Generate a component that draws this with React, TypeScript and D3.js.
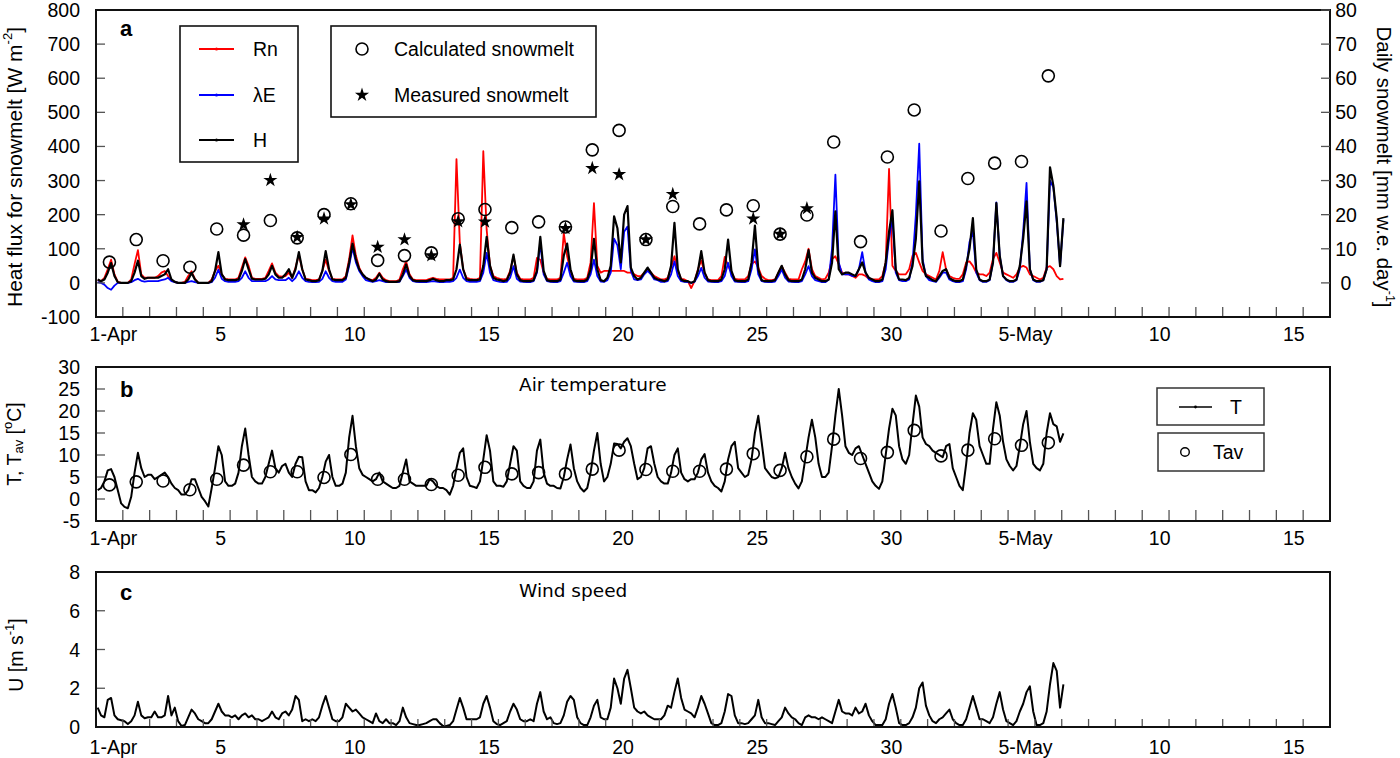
import React from 'react';
import * as d3 from 'd3';

// ---------------- DATA ----------------
// 3-hourly samples (1:30, 4:30, ... 22:30) for each day, 1 Apr – 6 May, plus one final sample
const RN_DAILY: number[][] = [
  [8, 5, 15, 40, 68, 25, 3, 0], [0, 0, 10, 55, 96, 25, 15, 15], [15, 15, 20, 30, 35, 20, 8, 3],
  [0, 0, 3, 20, 34, 12, 0, 0], [0, 0, 10, 35, 50, 25, 12, 10], [10, 10, 15, 45, 75, 50, 15, 12],
  [12, 12, 15, 35, 57, 30, 20, 18], [20, 30, 15, 45, 83, 40, 12, 10], [8, 8, 10, 35, 68, 35, 12, 10],
  [10, 10, 20, 70, 139, 80, 45, 25], [15, 10, 8, 15, 30, 15, 8, 5], [5, 5, 10, 40, 63, 25, 10, 8],
  [8, 8, 8, 12, 15, 12, 10, 10], [10, 10, 15, 363, 117, 40, 15, 12], [10, 10, 15, 386, 156, 50, 20, 15],
  [12, 10, 12, 35, 78, 30, 12, 10], [10, 10, 15, 73, 68, 30, 12, 10], [10, 10, 15, 146, 78, 35, 12, 10],
  [10, 10, 15, 60, 234, 50, 30, 35], [35, 35, 35, 35, 35, 35, 30, 30], [25, 20, 20, 30, 40, 30, 20, 15],
  [10, 10, 15, 45, 78, 35, 12, 10], [5, -15, 5, 40, 66, 30, 10, 8], [8, 8, 20, 76, 50, 30, 12, 10],
  [10, 10, 20, 55, 63, 45, 20, 12], [8, 8, 10, 30, 49, 30, 12, 10], [10, 10, 40, 63, 100, 40, 20, 15],
  [10, 12, 30, 70, 78, 55, 30, 25], [25, 20, 15, 25, 25, 20, 12, 10], [10, 10, 20, 60, 334, 50, 35, 25],
  [25, 25, 40, 80, 88, 60, 35, 25], [20, 15, 10, 35, 90, 40, 20, 15], [12, 12, 25, 60, 63, 50, 30, 25],
  [25, 20, 30, 70, 88, 60, 30, 25], [20, 15, 25, 45, 50, 45, 25, 20], [15, 10, 15, 45, 49, 40, 20, 10],
];
const RN_END = 12;

const LE_DAILY: number[][] = [
  [2, 0, -5, -15, -20, -8, 0, 0], [0, 0, 2, 8, 12, 6, 4, 5], [5, 5, 5, 8, 10, 15, 5, 2],
  [0, 0, 0, 3, 5, 2, 0, 0], [0, 0, 2, 15, 39, 12, 5, 3], [3, 3, 5, 15, 34, 15, 5, 5],
  [5, 5, 5, 10, 20, 10, 8, 8], [8, 15, 5, 15, 34, 15, 5, 3], [2, 2, 3, 12, 34, 15, 5, 3],
  [3, 3, 10, 50, 103, 60, 35, 20], [8, 5, 3, 5, 8, 5, 2, 2], [2, 2, 3, 20, 39, 15, 5, 3],
  [2, 2, 2, 4, 5, 4, 2, 2], [3, 3, 5, 15, 39, 15, 5, 3], [3, 3, 5, 30, 88, 30, 8, 5],
  [3, 2, 3, 15, 49, 12, 4, 3], [2, 2, 5, 30, 117, 25, 5, 3], [2, 2, 5, 30, 59, 20, 4, 3],
  [2, 2, 5, 25, 68, 20, 4, 3], [8, 30, 130, 110, 40, 150, 165, 35], [10, 8, 10, 25, 35, 25, 10, 8],
  [3, 3, 5, 25, 63, 20, 5, 3], [2, 0, 3, 20, 44, 15, 4, 3], [2, 2, 5, 20, 59, 20, 4, 3],
  [2, 2, 5, 40, 98, 25, 5, 3], [2, 2, 4, 20, 39, 15, 4, 3], [2, 2, 5, 25, 49, 20, 8, 5],
  [2, 2, 10, 100, 317, 60, 25, 25], [25, 20, 20, 40, 90, 30, 10, 5], [2, 2, 5, 40, 130, 190, 30, 8],
  [5, 5, 10, 60, 200, 408, 70, 20], [8, 5, 3, 15, 30, 30, 10, 5], [2, 2, 5, 40, 120, 150, 30, 8],
  [3, 3, 8, 60, 236, 80, 20, 8], [3, 3, 8, 40, 150, 293, 40, 8], [3, 3, 8, 40, 300, 280, 180, 49],
];
const LE_END = 185;

const H_DAILY: number[][] = [
  [10, 5, 10, 30, 58, 20, 2, 0], [0, 0, 5, 30, 65, 20, 12, 15], [15, 15, 15, 20, 25, 40, 10, 3],
  [0, 0, 0, 10, 29, 10, 0, 0], [0, 0, 5, 35, 90, 25, 10, 8], [8, 8, 10, 35, 70, 40, 12, 10],
  [10, 10, 12, 25, 50, 25, 15, 15], [25, 40, 15, 40, 90, 40, 10, 8], [5, 5, 8, 35, 93, 40, 10, 8],
  [8, 8, 15, 60, 115, 70, 40, 25], [15, 10, 5, 10, 27, 10, 5, 3], [3, 3, 5, 25, 54, 20, 8, 5],
  [5, 5, 5, 8, 12, 8, 5, 5], [8, 8, 10, 40, 112, 40, 10, 8], [8, 8, 10, 50, 135, 50, 15, 10],
  [8, 5, 8, 30, 83, 25, 8, 5], [5, 5, 8, 35, 135, 35, 8, 5], [5, 5, 10, 80, 115, 40, 8, 5],
  [5, 5, 10, 40, 129, 40, 8, 5], [15, 50, 195, 160, 60, 200, 225, 45], [20, 10, 15, 30, 45, 30, 15, 10],
  [8, 5, 10, 50, 176, 40, 10, 5], [5, 0, 5, 35, 93, 30, 8, 5], [5, 5, 10, 40, 127, 35, 8, 5],
  [5, 5, 10, 60, 168, 40, 8, 5], [5, 5, 8, 30, 50, 25, 8, 5], [5, 5, 10, 40, 96, 30, 15, 10],
  [5, 5, 10, 60, 210, 40, 25, 30], [30, 25, 20, 40, 60, 30, 15, 10], [5, 5, 10, 60, 150, 213, 40, 10],
  [10, 8, 15, 50, 130, 298, 60, 20], [15, 8, 5, 20, 35, 40, 15, 8], [5, 5, 10, 50, 100, 190, 40, 10],
  [5, 5, 10, 60, 234, 80, 20, 10], [5, 5, 10, 50, 130, 239, 40, 10], [5, 5, 8, 40, 339, 285, 190, 49],
];
const H_END = 190;

const T_DAILY: number[][] = [
  [2, 2.5, 4, 6.5, 6.8, 5, 2, -1], [-1.8, -2.1, 0.5, 6, 10.5, 7, 5, 5.5], [5.5, 4.5, 5, 5.5, 6, 5, 3.5, 2.5],
  [2, 1, 1, 2, 4.5, 4.5, 2.5, 0.5], [-0.5, -1.7, 2.5, 7, 12, 10, 4, 3], [3, 3.5, 6, 12, 16, 10, 5, 4],
  [3.5, 3.5, 5, 8, 11, 7, 6, 7.5], [8, 6, 5, 8, 9.6, 9.5, 4, 2], [2, 1.5, 2.5, 5, 8.5, 10, 5, 3],
  [3, 3.5, 6, 14, 18.9, 12, 7, 5.5], [5, 4.5, 4, 4.5, 6, 4, 3.5, 3], [2.5, 2.5, 3, 6, 9, 4, 3.5, 3],
  [3, 3, 3, 4.5, 4, 3, 2.5, 2.5], [2, 1, 3, 7, 10.5, 11.5, 5, 3], [2.8, 2.5, 4, 9, 14.5, 11, 4, 3],
  [3, 2.8, 4, 8, 12, 11, 4, 3], [2.5, 2.5, 4, 11, 13.5, 6, 3.5, 3], [3, 2.5, 2.4, 5, 9, 12.4, 7, 4],
  [2.5, 1.7, 2.5, 6, 11, 15, 8, 4], [5, 8, 12.6, 12.5, 11.5, 13, 13.8, 12], [8, 4.5, 5, 7, 11.5, 12, 8, 5],
  [4, 3.5, 3.5, 6, 10, 11.5, 6, 4.5], [4, 4.5, 4.5, 6, 9, 10.2, 6, 4], [3, 2.5, 1.7, 4, 9, 12, 13, 7],
  [6, 5, 5.5, 9, 15, 18.9, 13, 7], [6, 5, 4.7, 5, 7, 10.5, 7, 5], [3.5, 2.4, 4, 9, 14, 18, 14, 8],
  [5, 5, 6, 12, 19, 25, 19, 12], [10.5, 10, 11.5, 12, 10, 8, 6, 4], [3, 2.3, 4, 10, 16, 20.5, 19, 12],
  [9, 8, 10, 17, 23.5, 21, 14, 12.5], [12, 11, 10.5, 10, 9.5, 12, 12.5, 7], [5, 3, 2, 8, 15, 19.5, 18, 12],
  [10, 8, 8, 16, 22, 19, 13, 9], [7.5, 6.5, 7.5, 12, 17, 20, 13, 8], [7, 6.5, 8, 15, 19.5, 17, 16.5, 13],
];
const T_END = 14.9;

const U_DAILY: number[][] = [
  [1.0, 0.6, 0.5, 1.4, 1.5, 0.6, 0.4, 0.35], [0.3, 0.15, 0.3, 0.6, 1.3, 0.6, 0.45, 0.5],
  [0.5, 0.8, 0.5, 0.5, 0.6, 1.6, 0.6, 1.0], [0.3, 0.05, 0.1, 0.5, 0.9, 0.7, 0.4, 0.3],
  [0.2, 0.2, 0.4, 0.8, 1.2, 0.8, 0.6, 0.6], [0.5, 0.6, 0.4, 0.6, 0.7, 0.5, 0.6, 0.4],
  [0.4, 0.3, 0.4, 0.5, 0.8, 0.5, 0.4, 0.7], [0.8, 0.6, 0.9, 1.6, 1.4, 0.3, 0.4, 0.3],
  [0.4, 0.3, 0.5, 1.1, 1.6, 1.0, 0.4, 0.3], [0.3, 0.5, 1.2, 1.0, 0.8, 0.9, 0.7, 0.5],
  [0.4, 0.3, 0.2, 0.7, 0.3, 0.2, 0.4, 0.2], [0.2, 0.1, 0.3, 1.0, 0.5, 0.2, 0.15, 0.1],
  [0.1, 0.15, 0.2, 0.3, 0.4, 0.4, 0.2, 0.05], [0.05, 0.1, 0.3, 0.9, 1.5, 1.0, 0.4, 0.4],
  [0.4, 0.4, 0.5, 1.2, 1.6, 1.0, 0.3, 0.15], [0.1, 0.2, 0.3, 0.8, 1.2, 0.9, 0.4, 0.3],
  [0.3, 0.4, 0.3, 1.2, 1.8, 0.8, 0.4, 0.5], [0.2, 0.15, 0.2, 0.6, 1.3, 1.6, 1.4, 0.5],
  [0.2, 0.1, 0.1, 0.5, 1.1, 1.4, 0.5, 0.4], [0.4, 1.0, 2.5, 2.0, 1.2, 2.5, 2.95, 2.0],
  [1.0, 0.8, 0.7, 0.8, 0.6, 0.5, 0.4, 0.4], [0.4, 0.6, 1.1, 1.0, 1.8, 2.5, 1.5, 0.9],
  [0.8, 0.7, 0.5, 1.0, 1.6, 1.2, 0.7, 0.2], [0.1, 0.1, 0.2, 0.8, 1.7, 1.6, 0.6, 0.2],
  [0.2, 0.15, 0.2, 0.4, 0.6, 1.4, 0.5, 0.2], [0.2, 0.15, 0.1, 0.3, 0.5, 1.0, 0.7, 0.5],
  [0.4, 0.2, 0.1, 0.5, 0.6, 0.5, 0.5, 0.4], [0.5, 0.4, 0.3, 0.2, 0.8, 1.4, 0.8, 0.7],
  [0.7, 0.6, 1.0, 0.7, 0.8, 1.2, 0.6, 0.3], [0.1, 0.1, 0.1, 0.4, 1.2, 1.7, 1.0, 0.2],
  [0.1, 0.1, 0.2, 0.5, 1.0, 2.0, 2.3, 1.1], [0.6, 0.3, 0.2, 0.4, 0.5, 0.7, 0.9, 0.4],
  [0.2, 0.1, 0.1, 0.4, 1.0, 1.6, 1.0, 0.4], [0.4, 0.3, 0.2, 0.5, 1.2, 1.8, 0.9, 0.3],
  [0.2, 0.1, 0.3, 0.8, 1.2, 1.8, 2.1, 0.8], [0.1, 0.1, 0.2, 0.8, 2.2, 3.3, 2.9, 1.0],
];
const U_END = 2.2;

// daily snowmelt (mm w.e. / day), days 1..36 (1 Apr .. 6 May)
const CALC_MELT = [6.1, 12.7, 6.5, 4.6, 15.8, 14.0, 18.3, 13.2, 20.0, 23.2, 6.6, 8.0, 8.8, 18.8, 21.5, 16.2,
  17.9, 16.4, 39.0, 44.7, 12.7, 22.4, 17.3, 21.4, 22.6, 14.3, 19.9, 41.3, 12.1, 36.9, 50.7, 15.2, 30.6,
  35.1, 35.6, 60.7];
const MEAS_DAYS = [6, 7, 8, 9, 10, 11, 12, 13, 14, 15, 18, 19, 20, 21, 22, 25, 26, 27];
const MEAS_MELT = [17.1, 30.1, 13.4, 18.8, 23.0, 10.5, 12.7, 8.0, 18.0, 17.9, 16.0, 33.6, 31.8, 12.7, 26.0,
  18.8, 14.3, 21.8];
// daily mean air temperature, days 1..36
const TAV = [3.2, 3.9, 4.1, 2.1, 4.5, 7.7, 6.2, 6.2, 4.9, 10.1, 4.5, 4.5, 3.3, 5.4, 7.2, 5.7, 6.0, 5.7, 6.8,
  11.1, 6.7, 6.3, 6.3, 6.8, 10.3, 6.5, 9.6, 13.6, 9.2, 10.6, 15.6, 9.8, 11.1, 13.7, 12.2, 12.8];

const X_LABELS = ['1-Apr', '5', '10', '15', '20', '25', '30', '5-May', '10', '15'];
const X_LABEL_DAYS = [1, 5, 10, 15, 20, 25, 30, 35, 40, 45];
const TOTAL_DAYS = 46;

const YA_TICKS = d3.range(-100, 801, 100);
const YA2_TICKS = d3.range(0, 81, 10);
const YB_TICKS = d3.range(-5, 31, 5);
const YC_TICKS = d3.range(0, 9, 2);

// ---------------- DRAWING ----------------
const ARIAL = "'Liberation Sans', Arial, sans-serif";
const GOTHIC = "'DejaVu Sans', sans-serif";

const series = (daily: number[][], end: number) => [...daily.flat(), end];
const tOf = (i: number) => (i + 0.5) / 8;

const x = d3.scaleLinear().domain([0, TOTAL_DAYS]).range([96, 1330]);

interface PanelProps {
  y: d3.ScaleLinear<number, number>;
  yTicks: number[];
  labelY: number;
  tickLen: number;
}

function Frame({ y, yTicks, labelY, tickLen }: PanelProps) {
  const [y0, y1] = y.range();
  const xTicks = d3.range(1, TOTAL_DAYS);
  return (
    <g>
      {xTicks.map((d) => (
        <line key={'xt' + d} x1={x(d)} x2={x(d)} y1={y0} y2={y0 - tickLen} stroke="#555" strokeWidth={1.3} />
      ))}
      {yTicks.map((v) => (
        <g key={'yt' + v}>
          <line x1={x(0)} x2={x(0) + 9} y1={y(v)} y2={y(v)} stroke="#555" strokeWidth={1.3} />
          <text x={80} y={y(v)} textAnchor="end" dominantBaseline="central" fontSize={19.5} fontFamily={ARIAL}>
            {String(v)}
          </text>
        </g>
      ))}
      <rect x={x(0)} y={y1} width={x(TOTAL_DAYS) - x(0)} height={y0 - y1} fill="none" stroke="#111" strokeWidth={2} />
      {X_LABELS.map((l, i) => (
        <text key={'xl' + i} x={x(X_LABEL_DAYS[i] - 0.35)} y={labelY} textAnchor="middle" fontSize={19.5} fontFamily={ARIAL}>
          {l}
        </text>
      ))}
    </g>
  );
}

export default function App() {
  const yA = d3.scaleLinear().domain([-100, 800]).range([317, 10]);
  const yA2 = d3.scaleLinear().domain([-10, 80]).range([317, 10]);
  const yB = d3.scaleLinear().domain([-5, 30]).range([521, 367]);
  const yC = d3.scaleLinear().domain([0, 8]).range([727, 572]);

  const lineA = d3.line<number>().x((_, i) => x(tOf(i))).y((d) => yA(d));
  const lineB = d3.line<number>().x((_, i) => x(tOf(i))).y((d) => yB(d));
  const lineC = d3.line<number>().x((_, i) => x(tOf(i))).y((d) => yC(d));

  const rn = series(RN_DAILY, RN_END);
  const le = series(LE_DAILY, LE_END);
  const hh = series(H_DAILY, H_END);
  const tt = series(T_DAILY, T_END);
  const uu = series(U_DAILY, U_END);

  const star = d3.symbol().type(d3.symbolStar).size(62)() as string;

  return (
    <svg width={1400} height={758} style={{ position: 'absolute', left: 0, top: 0, background: '#fff' }}>
      <rect x={0} y={0} width={1400} height={758} fill="#fff" />

      {/* ---------- Panel a ---------- */}
      <path d={lineA(rn) as string} fill="none" stroke="#ff0000" strokeWidth={1.8} strokeLinejoin="round" />
      <path d={lineA(le) as string} fill="none" stroke="#0000ff" strokeWidth={1.8} strokeLinejoin="round" />
      <path d={lineA(hh) as string} fill="none" stroke="#000" strokeWidth={2.2} strokeLinejoin="round" />
      {CALC_MELT.map((v, i) => (
        <circle key={'cm' + i} cx={x(i + 0.5)} cy={yA2(v)} r={6} fill="none" stroke="#000" strokeWidth={1.6} />
      ))}
      {MEAS_MELT.map((v, i) => (
        <path key={'mm' + i} d={star} transform={`translate(${x(MEAS_DAYS[i] - 0.5)},${yA2(v)})`} fill="#000" />
      ))}
      <Frame y={yA} yTicks={YA_TICKS} labelY={341} tickLen={10} />
      {YA2_TICKS.map((v) => (
        <g key={'ra' + v}>
          <line x1={x(TOTAL_DAYS)} x2={x(TOTAL_DAYS) - 9} y1={yA2(v)} y2={yA2(v)} stroke="#555" strokeWidth={1.3} />
          <text x={1346} y={yA2(v)} textAnchor="middle" dominantBaseline="central" fontSize={19.5} fontFamily={ARIAL}>
            {String(v)}
          </text>
        </g>
      ))}
      <text x={120} y={36} fontSize={22} fontWeight="bold" fontFamily={ARIAL}>a</text>
      <text transform="translate(14,167) rotate(-90)" textAnchor="middle" dominantBaseline="central" fontSize={21} fontFamily={ARIAL}>
        Heat flux for snowmelt [W m<tspan dy={-7} fontSize={13}>-2</tspan><tspan dy={7}>]</tspan>
      </text>
      <text transform="translate(1384,167) rotate(90)" textAnchor="middle" dominantBaseline="central" fontSize={20.5} fontFamily={ARIAL}>
        Daily snowmelt [mm w.e. day<tspan dy={-6} fontSize={12.5}>-1</tspan><tspan dy={6}>]</tspan>
      </text>

      {/* legend 1 */}
      <rect x={180} y={26} width={118} height={136} fill="#fff" stroke="#111" strokeWidth={1.6} />
      {[
        { c: '#ff0000', l: 'Rn', y: 49 },
        { c: '#0000ff', l: 'λE', y: 95 },
        { c: '#000', l: 'H', y: 140 },
      ].map((e) => (
        <g key={e.l}>
          <line x1={199} x2={234} y1={e.y} y2={e.y} stroke={e.c} strokeWidth={2} />
          <circle cx={216.5} cy={e.y} r={1.6} fill={e.c} />
          <text x={253} y={e.y} dominantBaseline="central" fontSize={19.5} fontFamily={ARIAL}>{e.l}</text>
        </g>
      ))}
      {/* legend 2 */}
      <rect x={331} y={26} width={265} height={91} fill="#fff" stroke="#111" strokeWidth={1.6} />
      <circle cx={362} cy={49} r={6} fill="none" stroke="#000" strokeWidth={1.6} />
      <path d={star} transform="translate(362,95)" fill="#000" />
      <text x={394} y={49} dominantBaseline="central" fontSize={19.5} fontFamily={ARIAL}>Calculated snowmelt</text>
      <text x={394} y={95} dominantBaseline="central" fontSize={19.5} fontFamily={ARIAL}>Measured snowmelt</text>

      {/* ---------- Panel b ---------- */}
      <path d={lineB(tt) as string} fill="none" stroke="#000" strokeWidth={2} strokeLinejoin="round" />
      {TAV.map((v, i) => (
        <circle key={'ta' + i} cx={x(i + 0.5)} cy={yB(v)} r={6} fill="none" stroke="#000" strokeWidth={1.6} />
      ))}
      <Frame y={yB} yTicks={YB_TICKS} labelY={545} tickLen={11} />
      <text x={120} y={397} fontSize={22} fontWeight="bold" fontFamily={ARIAL}>b</text>
      <text x={519} y={391} fontSize={18.5} fontFamily={GOTHIC}>Air temperature</text>
      <text transform="translate(14,444) rotate(-90)" textAnchor="middle" dominantBaseline="central" fontSize={19.5} fontFamily={ARIAL}>
        T, T<tspan dy={4} fontSize={13}>av</tspan><tspan dy={-4}> [</tspan><tspan dy={-7} fontSize={13}>o</tspan><tspan dy={7}>C]</tspan>
      </text>
      <rect x={1157} y={388} width={107} height={37} fill="#fff" stroke="#333" strokeWidth={1.5} />
      <line x1={1179} x2={1212} y1={407} y2={407} stroke="#000" strokeWidth={1.3} />
      <circle cx={1195.5} cy={407} r={1.4} fill="#000" />
      <text x={1230} y={407} dominantBaseline="central" fontSize={19.5} fontFamily={ARIAL}>T</text>
      <rect x={1158} y={433} width={106} height={38} fill="#fff" stroke="#333" strokeWidth={1.5} />
      <circle cx={1185} cy={452} r={4.3} fill="none" stroke="#000" strokeWidth={1.4} />
      <text x={1213} y={452} dominantBaseline="central" fontSize={19.5} fontFamily={ARIAL}>Tav</text>

      {/* ---------- Panel c ---------- */}
      <path d={lineC(uu) as string} fill="none" stroke="#000" strokeWidth={2} strokeLinejoin="round" />
      <Frame y={yC} yTicks={YC_TICKS} labelY={754} tickLen={8} />
      <text x={120} y={600} fontSize={22} fontWeight="bold" fontFamily={ARIAL}>c</text>
      <text x={519} y={597} fontSize={18.5} fontFamily={GOTHIC}>Wind speed</text>
      <text transform="translate(16,655) rotate(-90)" textAnchor="middle" dominantBaseline="central" fontSize={19.5} fontFamily={ARIAL}>
        U [m s<tspan dy={-7} fontSize={13}>-1</tspan><tspan dy={7}>]</tspan>
      </text>
    </svg>
  );
}
